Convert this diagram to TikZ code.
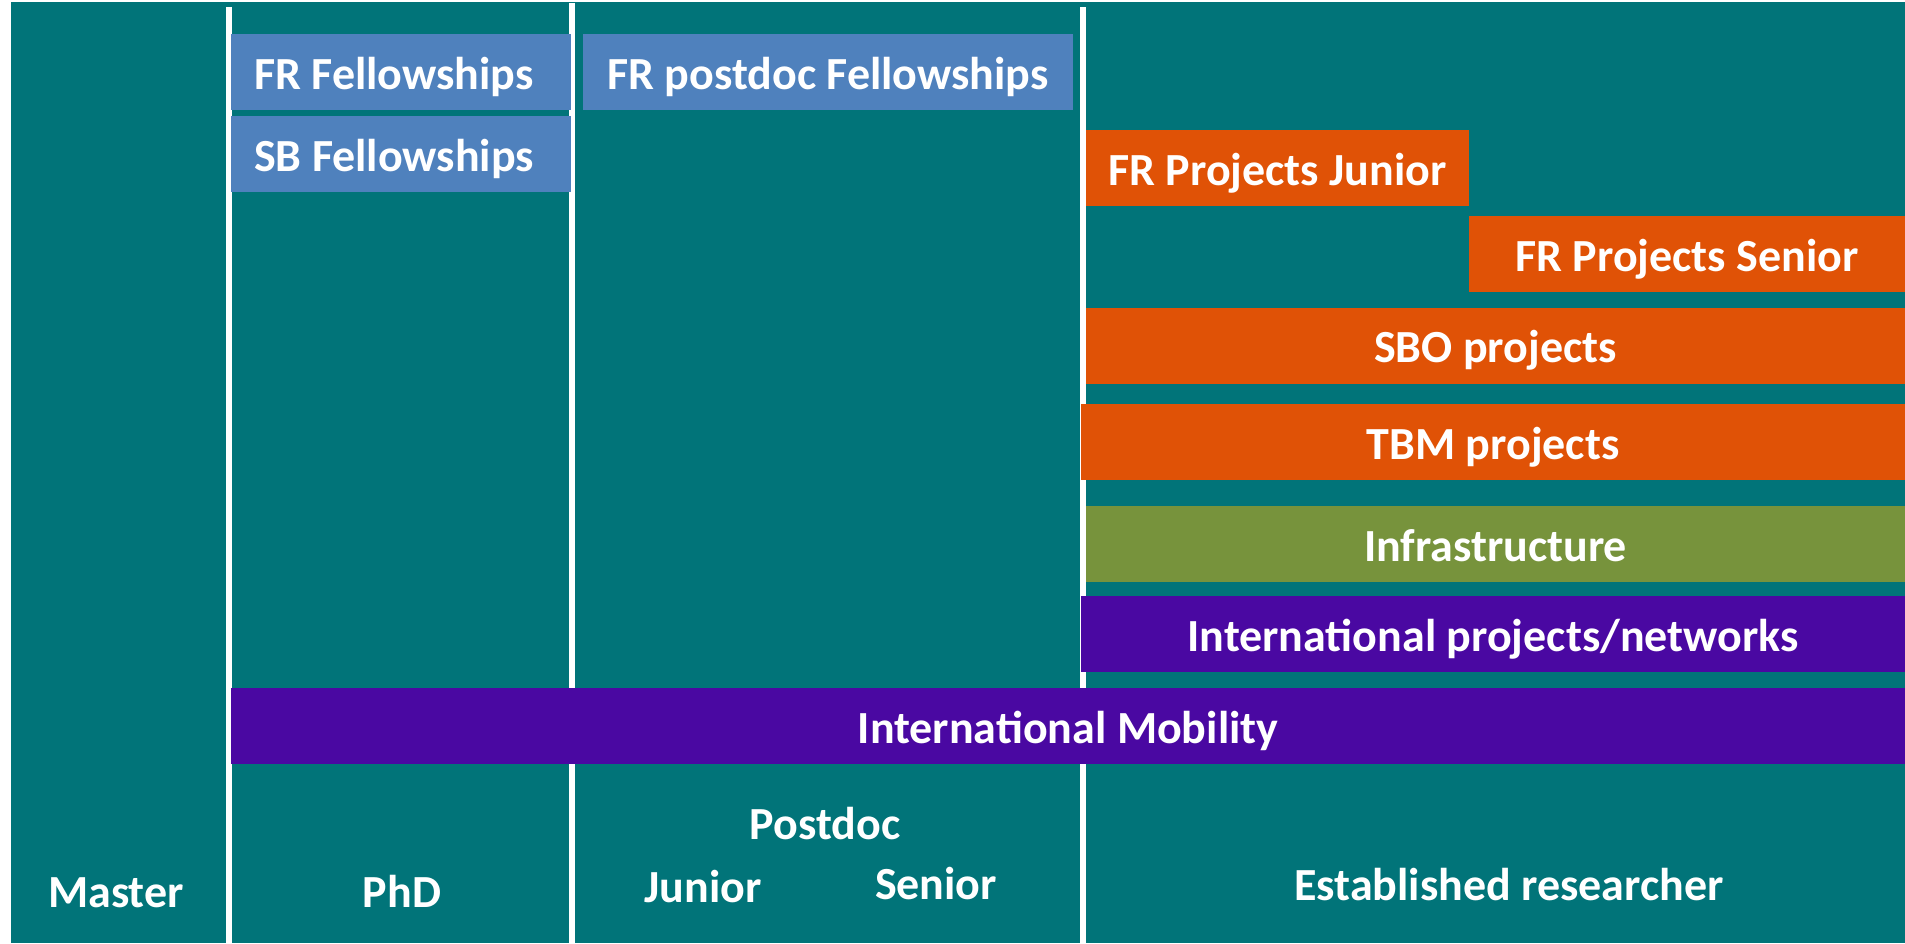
\documentclass[tikz,border=0pt]{standalone}
\usepackage{fontspec}
\setmainfont{Carlito}
\definecolor{bgteal}{RGB}{1,116,121}
\definecolor{fblue}{RGB}{79,129,189}
\definecolor{porange}{RGB}{224,82,6}
\definecolor{igreen}{RGB}{119,147,60}
\definecolor{ipurple}{RGB}{74,8,162}
\begin{document}
\begin{tikzpicture}[x=1pt,y=-1pt,
  bar/.style={inner sep=0pt, text=white, font=\fontsize{46}{55}\selectfont\bfseries,
    text height=34pt, text depth=0pt, minimum height=76pt, anchor=center},
  lab/.style={inner sep=0pt, text=white, font=\fontsize{46}{55}\selectfont\bfseries, anchor=base},
  divider/.style={draw=white, line width=6pt}]
\useasboundingbox (0,0) rectangle (1905,943);
\fill[white] (0,0) rectangle (1905,943);
\fill[bgteal] (11,2) rectangle (1905,943);
% dividers
\coordinate (l1t) at (229,7);  \coordinate (l1b) at (229,943);
\coordinate (l2t) at (572,3);  \coordinate (l2b) at (572,943);
\coordinate (l3t) at (1083,7); \coordinate (l3b) at (1083,943);
\draw[divider] (l1t) -- (l1b);
\draw[divider] (l2t) -- (l2b);
\draw[divider] (l3t) -- (l3b);
% bars
\node[bar, fill=fblue, minimum width=340pt] (frf) at (401,72) {FR Fellowships\hspace*{14pt}};
\node[bar, fill=fblue, minimum width=340pt] (sbf) at (401,154) {SB Fellowships\hspace*{14pt}};
\node[bar, fill=fblue, minimum width=490pt] (frpd) at (828,72) {FR postdoc\ Fellowships};
\node[bar, fill=porange, minimum width=383pt] (frpj) at (1277.5,168) {FR Projects Junior};
\node[bar, fill=porange, minimum width=436pt] (frps) at (1687,254) {FR Projects Senior};
\node[bar, fill=porange, minimum width=819pt] (sbo) at (1495.5,345.5) {SBO projects};
\node[bar, fill=porange, minimum width=824pt] (tbm) at (1493,442) {TBM projects};
\node[bar, fill=igreen, minimum width=819pt] (infra) at (1495.5,544) {Infrastructure};
\node[bar, fill=ipurple, minimum width=824pt] (intl) at (1493,634) {International projects/networks};
\node[bar, fill=ipurple, minimum width=1674pt] (mob) at (1068,726) {International Mobility};
% stage labels
\node[lab] (master) at (116,907) {Master};
\node[lab] (phd) at (402,907) {PhD};
\node[lab] (postdoc) at (825,839) {Postdoc};
\node[lab] (junior) at (703,902) {Junior};
\node[lab] (senior) at (936,899) {Senior};
\node[lab] (estab) at (1509,900) {Established researcher};
\end{tikzpicture}
\end{document}
